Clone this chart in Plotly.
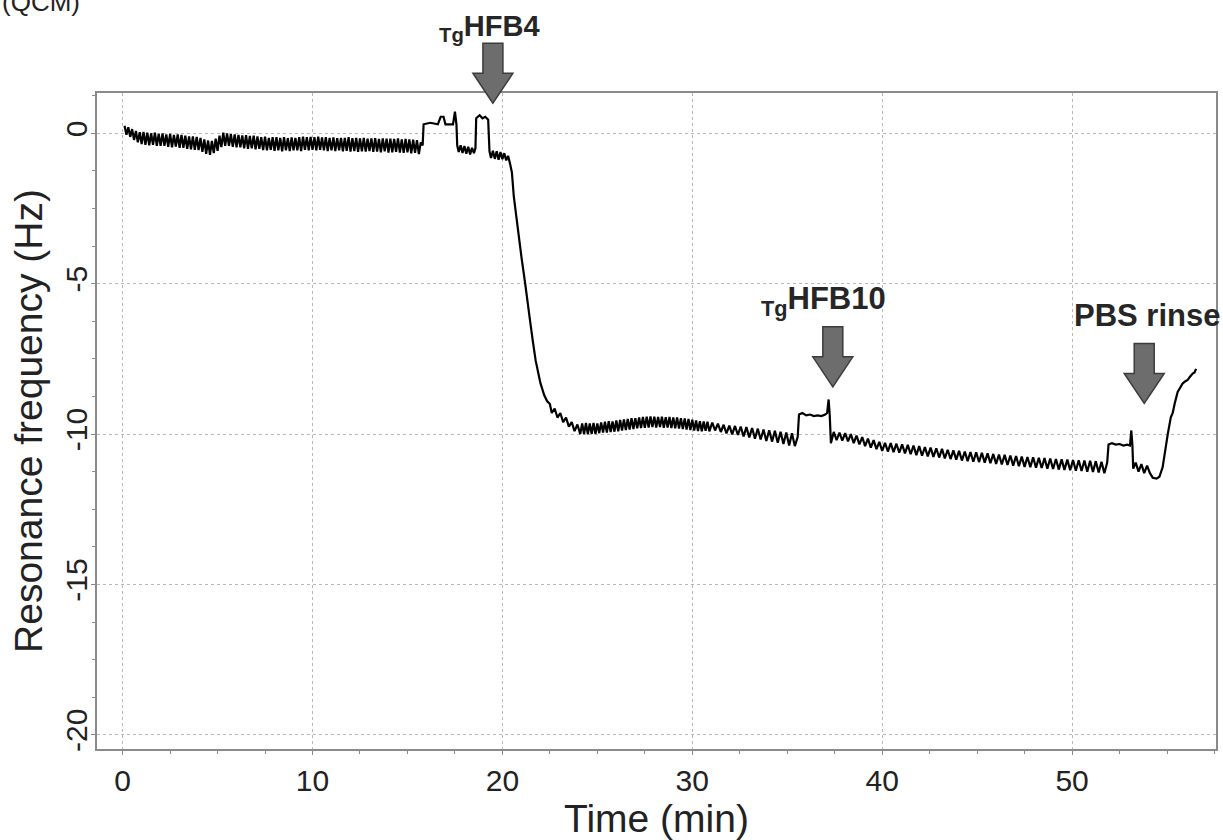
import plotly.graph_objects as go

# ---------------- data (time in min, frequency shift in Hz) ----------------
baseline = [
    (0.1, 0.25), (0.2, -0.05), (0.3, 0.2), (0.4, -0.12), (0.5, 0.14), (0.6, -0.22), (0.7, 0.08), (0.8, -0.3), (0.9, 0.04), (1.0, -0.36),
    (1.1, 0.05), (1.2, -0.38), (1.3, 0.02), (1.4, -0.4), (1.5, 0.0), (1.6, -0.38), (1.7, 0.02), (1.8, -0.42), (1.9, -0.02), (2.0, -0.42),
    (2.1, 0.0), (2.2, -0.42), (2.3, -0.04), (2.4, -0.45), (2.5, -0.02), (2.6, -0.47), (2.7, -0.05), (2.8, -0.44), (2.9, -0.04), (3.0, -0.48),
    (3.1, -0.05), (3.2, -0.48), (3.3, -0.08), (3.4, -0.52), (3.5, -0.1), (3.6, -0.53), (3.7, -0.1), (3.8, -0.55), (3.9, -0.12), (4.0, -0.56),
    (4.1, -0.15), (4.2, -0.62), (4.3, -0.2), (4.4, -0.68), (4.5, -0.24), (4.6, -0.72), (4.7, -0.25), (4.8, -0.66), (4.9, -0.18), (5.0, -0.58),
    (5.1, -0.08), (5.2, -0.46), (5.3, 0.02), (5.4, -0.42), (5.5, 0.0), (5.6, -0.42), (5.7, -0.03), (5.8, -0.45), (5.9, -0.04), (6.0, -0.47),
    (6.1, -0.05), (6.2, -0.47), (6.3, -0.07), (6.4, -0.5), (6.5, -0.06), (6.6, -0.52), (6.7, -0.09), (6.8, -0.5), (6.9, -0.08), (7.0, -0.53),
    (7.1, -0.1), (7.2, -0.52), (7.3, -0.13), (7.4, -0.56), (7.5, -0.11), (7.6, -0.57), (7.7, -0.15), (7.8, -0.55), (7.9, -0.13), (8.0, -0.58),
    (8.1, -0.13), (8.2, -0.57), (8.3, -0.15), (8.4, -0.6), (8.5, -0.13), (8.6, -0.57), (8.7, -0.16), (8.8, -0.59), (8.9, -0.14), (9.0, -0.57),
    (9.1, -0.15), (9.2, -0.57), (9.3, -0.13), (9.4, -0.59), (9.5, -0.11), (9.6, -0.55), (9.7, -0.13), (9.8, -0.57), (9.9, -0.12), (10.0, -0.55),
    (10.1, -0.13), (10.2, -0.57), (10.3, -0.11), (10.4, -0.55), (10.5, -0.14), (10.6, -0.57), (10.7, -0.13), (10.8, -0.59), (10.9, -0.15), (11.0, -0.57),
    (11.1, -0.14), (11.2, -0.59), (11.3, -0.16), (11.4, -0.57), (11.5, -0.15), (11.6, -0.6), (11.7, -0.15), (11.8, -0.58), (11.9, -0.13), (12.0, -0.61),
    (12.1, -0.16), (12.2, -0.59), (12.3, -0.15), (12.4, -0.62), (12.5, -0.17), (12.6, -0.6), (12.7, -0.15), (12.8, -0.61), (12.9, -0.18), (13.0, -0.59),
    (13.1, -0.17), (13.2, -0.62), (13.3, -0.16), (13.4, -0.61), (13.5, -0.19), (13.6, -0.63), (13.7, -0.17), (13.8, -0.6), (13.9, -0.18), (14.0, -0.64),
    (14.1, -0.18), (14.2, -0.63), (14.3, -0.19), (14.4, -0.62), (14.5, -0.17), (14.6, -0.64), (14.7, -0.2), (14.8, -0.65), (14.9, -0.19), (15.0, -0.63),
    (15.1, -0.2), (15.2, -0.67), (15.3, -0.21), (15.4, -0.65), (15.5, -0.23), (15.6, -0.69), (15.7, -0.3),
]

hfb4_injection = [
    (15.8, -0.4), (15.85, 0.3), (16.2, 0.35), (16.6, 0.3), (16.75, 0.55), (16.9, 0.55), (17.0, 0.3), (17.4, 0.3),
    (17.5, 0.72), (17.58, 0.3), (17.62, -0.4), (17.7, -0.62), (17.8, -0.4), (17.9, -0.65), (18.0, -0.42), (18.1, -0.68),
    (18.2, -0.45), (18.3, -0.7), (18.4, -0.48), (18.5, -0.66), (18.58, -0.5), (18.62, 0.5), (18.8, 0.6), (18.95, 0.5),
    (19.1, 0.55), (19.25, 0.45), (19.32, -0.6), (19.4, -0.82), (19.5, -0.58), (19.6, -0.85), (19.7, -0.6),
    (19.8, -0.88), (19.9, -0.62), (20.0, -0.86), (20.1, -0.66), (20.2, -0.9), (20.3, -0.75),
]

adsorption_drop = [
    (20.4, -1.0), (20.5, -1.3), (20.6, -2.1), (20.8, -3.1), (21.0, -4.1), (21.2, -5.0), (21.45, -6.2), (21.6, -6.9),
    (21.75, -7.55), (21.9, -8.0), (22.0, -8.3), (22.2, -8.7), (22.35, -8.9), (22.5, -9.0), (22.6, -9.3), (22.75, -9.15),
    (22.9, -9.45), (23.05, -9.3), (23.2, -9.6), (23.35, -9.45), (23.5, -9.75), (23.65, -9.6), (23.8, -9.9),
    (23.95, -9.68), (24.1, -10.0),
]

plateau_1 = [
    (24.2, -9.65), (24.3, -10.0), (24.4, -9.63), (24.5, -10.01), (24.6, -9.65), (24.7, -9.99), (24.8, -9.63), (24.9, -10.0), (25.0, -9.65), (25.1, -9.97),
    (25.2, -9.61), (25.3, -9.95), (25.4, -9.59), (25.5, -9.95), (25.6, -9.57), (25.7, -9.93), (25.8, -9.58), (25.9, -9.92), (26.0, -9.55), (26.1, -9.91),
    (26.2, -9.53), (26.3, -9.88), (26.4, -9.51), (26.5, -9.87), (26.6, -9.5), (26.7, -9.85), (26.8, -9.47), (26.9, -9.83), (27.0, -9.47), (27.1, -9.81),
    (27.2, -9.45), (27.3, -9.8), (27.4, -9.43), (27.5, -9.79), (27.6, -9.42), (27.7, -9.78), (27.8, -9.41), (27.9, -9.77), (28.0, -9.42), (28.1, -9.78),
    (28.2, -9.43), (28.3, -9.77), (28.4, -9.42), (28.5, -9.79), (28.6, -9.44), (28.7, -9.78), (28.8, -9.43), (28.9, -9.8), (29.0, -9.45), (29.1, -9.81),
    (29.2, -9.45), (29.3, -9.82), (29.4, -9.47), (29.5, -9.83), (29.6, -9.48), (29.7, -9.85), (29.8, -9.5), (29.9, -9.87), (30.0, -9.52), (30.1, -9.88),
    (30.2, -9.55), (30.3, -9.9), (30.4, -9.57), (30.5, -9.91), (30.6, -9.58), (30.7, -9.89), (30.8, -9.59), (30.9, -9.91),
]

oscillation_1 = [
    (31.05, -9.62), (31.2, -9.88), (31.35, -9.65), (31.5, -9.93), (31.65, -9.69), (31.8, -9.98), (31.95, -9.72),
    (32.1, -10.01), (32.25, -9.73), (32.4, -10.03), (32.55, -9.75), (32.7, -10.08), (32.85, -9.77), (33.0, -10.11),
    (33.15, -9.8), (33.3, -10.15), (33.45, -9.82), (33.6, -10.18), (33.75, -9.85), (33.9, -10.23), (34.05, -9.87),
    (34.2, -10.25), (34.35, -9.89), (34.5, -10.29), (34.65, -9.92), (34.8, -10.33), (34.95, -9.95), (35.1, -10.38),
    (35.25, -9.97), (35.4, -10.4), (35.55, -10.1),
]

hfb10_step = [
    (35.62, -9.35), (35.8, -9.3), (36.0, -9.38), (36.2, -9.35), (36.4, -9.4), (36.6, -9.38), (36.8, -9.4),
    (37.0, -9.35), (37.1, -9.3), (37.18, -8.85), (37.24, -9.4), (37.3, -10.3),
]

oscillation_2 = [
    (37.45, -9.93), (37.6, -10.2), (37.75, -9.95), (37.9, -10.22), (38.05, -9.97), (38.2, -10.24), (38.35, -10.0),
    (38.5, -10.3), (38.65, -10.05), (38.8, -10.34), (38.95, -10.1), (39.1, -10.4), (39.25, -10.15), (39.4, -10.45),
    (39.55, -10.2), (39.7, -10.5), (39.85, -10.26), (40.0, -10.56), (40.15, -10.29), (40.3, -10.58), (40.45, -10.3),
    (40.6, -10.6), (40.75, -10.32), (40.9, -10.62), (41.05, -10.34), (41.2, -10.64), (41.35, -10.36), (41.5, -10.67),
    (41.65, -10.38), (41.8, -10.7), (41.95, -10.4), (42.1, -10.72), (42.25, -10.43), (42.4, -10.74), (42.55, -10.45),
    (42.7, -10.76), (42.85, -10.47), (43.0, -10.78), (43.15, -10.49), (43.3, -10.81), (43.45, -10.52), (43.6, -10.83),
    (43.75, -10.54), (43.9, -10.85), (44.05, -10.56), (44.2, -10.88), (44.35, -10.58), (44.5, -10.9), (44.65, -10.6),
    (44.8, -10.92), (44.95, -10.61), (45.1, -10.93), (45.25, -10.62), (45.4, -10.95), (45.55, -10.64), (45.7, -10.97),
    (45.85, -10.66), (46.0, -10.99), (46.15, -10.68), (46.3, -11.01), (46.45, -10.69), (46.6, -11.03), (46.75, -10.71),
    (46.9, -11.05), (47.05, -10.73), (47.2, -11.07), (47.35, -10.75), (47.5, -11.09), (47.65, -10.76), (47.8, -11.1),
    (47.95, -10.77), (48.1, -11.12), (48.25, -10.79), (48.4, -11.13), (48.55, -10.8), (48.7, -11.15), (48.85, -10.81),
    (49.0, -11.16), (49.15, -10.83), (49.3, -11.18), (49.45, -10.84), (49.6, -11.19), (49.75, -10.85), (49.9, -11.2),
    (50.05, -10.86), (50.2, -11.22), (50.35, -10.87), (50.5, -11.23), (50.65, -10.88), (50.8, -11.25), (50.95, -10.89),
    (51.1, -11.26), (51.25, -10.9), (51.4, -11.28), (51.55, -10.92), (51.7, -11.3), (51.85, -10.95),
]

pbs_rinse = [
    (51.92, -10.35), (52.1, -10.3), (52.3, -10.35), (52.5, -10.33), (52.7, -10.38), (52.9, -10.35), (53.05, -10.38),
    (53.12, -9.88), (53.18, -10.4), (53.22, -11.15), (53.35, -10.95), (53.5, -11.25), (53.65, -11.0), (53.8, -11.3),
    (53.95, -11.05), (54.1, -11.3), (54.25, -11.45), (54.45, -11.48), (54.6, -11.42), (54.77, -11.1), (55.04, -10.0),
    (55.2, -9.44), (55.3, -9.3), (55.4, -9.0), (55.56, -8.6), (55.7, -8.45), (55.82, -8.32), (55.95, -8.25),
    (56.09, -8.2), (56.2, -8.1), (56.35, -7.99), (56.45, -7.95), (56.53, -7.83),
]

event_labels = ["<b><sub>Tg</sub>HFB4</b>", "<b><sub>Tg</sub>HFB10</b>", "<b>PBS rinse</b>"]
event_times = [19.5, 37.4, 53.8]
event_levels = [1.0, -8.43, -8.98]

x_tick_values = [0, 10, 20, 30, 40, 50]
x_tick_labels = ["0", "10", "20", "30", "40", "50"]
y_tick_values = [0, -5, -10, -15, -20]
y_tick_labels = ["0", "-5", "-10", "-15", "-20"]

# ---------------- build the figure ----------------
segments = [baseline, hfb4_injection, adsorption_drop, plateau_1, oscillation_1,
            hfb10_step, oscillation_2, pbs_rinse]
points = [p for seg in segments for p in seg]
time_min = [p[0] for p in points]
freq_hz = [p[1] for p in points]

X_RANGE = [-1.35, 57.58]
Y_RANGE = [-20.47, 1.34]

FONT = "Liberation Sans, Arial, Helvetica, sans-serif"
FRAME = "#8a8a8a"
GRID = "#b8b8b8"
TEXT = "#222222"

fig = go.Figure()
fig.add_trace(go.Scatter(x=time_min, y=freq_hz, mode="lines",
                         line=dict(color="#000000", width=2.2, simplify=False),
                         showlegend=False, hoverinfo="skip"))

# event arrows: block arrows sized in pixels, tip anchored at the event position
arrow_path = "M 0 0 L -20 30 L -10 30 L -10 60 L 10 60 L 10 30 L 20 30 Z"
label_sizes = [29, 31, 31]
label_xshift = [-3, -9, 3]
label_yshift = [55, 64, 68]
for t, lv in zip(event_times, event_levels):
    y_paper = (lv - Y_RANGE[0]) / (Y_RANGE[1] - Y_RANGE[0])
    fig.add_shape(type="path", path=arrow_path, xref="x", yref="paper",
                  xsizemode="pixel", ysizemode="pixel", xanchor=t, yanchor=y_paper,
                  fillcolor="#6d6d6d", line=dict(color="#3c3c3c", width=1.5), layer="above")
for lab, t, lv, fs, xs, ys in zip(event_labels, event_times, event_levels,
                                  label_sizes, label_xshift, label_yshift):
    fig.add_annotation(text=lab, x=t, y=lv, xref="x", yref="y", showarrow=False,
                       xanchor="center", yanchor="bottom", xshift=xs, yshift=ys,
                       font=dict(family=FONT, size=fs, color="#262626"))

# partially cropped panel label at the top-left corner
fig.add_annotation(text="(QCM)", xref="paper", yref="paper", x=-97 / 1119, y=1 + 91 / 656,
                   xanchor="left", yanchor="middle", showarrow=False,
                   font=dict(family=FONT, size=26, color=TEXT))

axis_common = dict(showgrid=True, gridcolor=GRID, griddash="dot", gridwidth=1,
                   showline=True, linecolor=FRAME, linewidth=2, mirror=True,
                   ticks="outside", ticklen=4, tickcolor=FRAME, tickwidth=1,
                   zeroline=False, tickfont=dict(family=FONT, size=30, color=TEXT))

fig.update_xaxes(range=X_RANGE, tickvals=x_tick_values, ticktext=x_tick_labels,
                 minor=dict(tick0=0, dtick=2.5, ticks="outside", ticklen=3, tickcolor=FRAME, showgrid=False),
                 title=dict(text="Time (min)", standoff=10,
                            font=dict(family=FONT, size=39, color=TEXT)),
                 **axis_common)
fig.update_yaxes(range=Y_RANGE, tickvals=y_tick_values, ticktext=y_tick_labels, tickangle=-90,
                 ticklabelstandoff=-8,
                 minor=dict(tick0=0, dtick=1.25, ticks="outside", ticklen=3, tickcolor=FRAME, showgrid=False),
                 title=dict(text="Resonance frequency (Hz)", standoff=5,
                            font=dict(family=FONT, size=39, color=TEXT)),
                 **axis_common)

fig.update_layout(width=1223, height=840,
                  margin=dict(l=97, r=7, t=93, b=91, autoexpand=False),
                  plot_bgcolor="#ffffff", paper_bgcolor="#ffffff",
                  font=dict(family=FONT))

fig.write_html("out.html", config={"displayModeBar": False},
               post_script="document.body.style.margin='0';")
